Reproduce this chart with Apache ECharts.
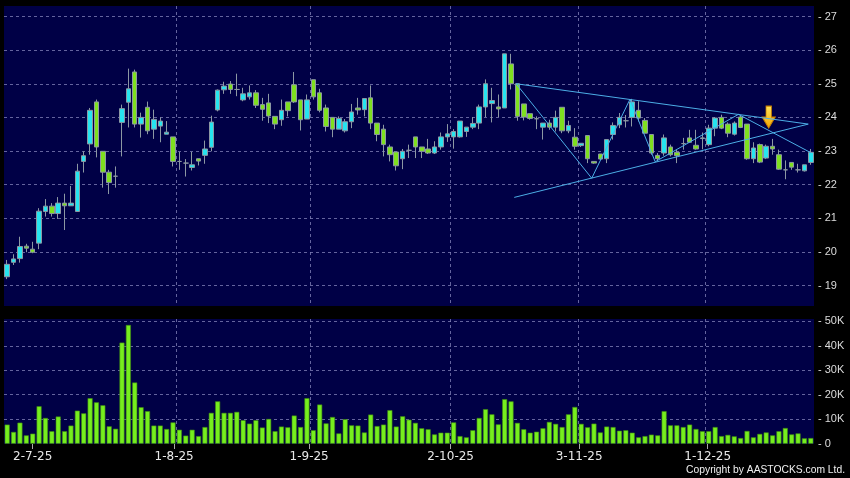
<!DOCTYPE html>
<html><head><meta charset="utf-8">
<script src="https://cdn.jsdelivr.net/npm/echarts@6/dist/echarts.min.js"></script>
<style>html,body{margin:0;padding:0;background:#000;} #c{width:850px;height:478px;}</style>
</head><body><div id="c"></div>
<script>
const dates = [
 '25-6-25','26-6-25','27-6-25','30-6-25',
 '2-7-25','3-7-25','4-7-25','7-7-25','8-7-25','9-7-25','10-7-25','11-7-25','14-7-25','15-7-25','16-7-25','17-7-25','18-7-25','21-7-25','22-7-25','23-7-25','24-7-25','25-7-25','28-7-25','29-7-25','30-7-25','31-7-25',
 '1-8-25','4-8-25','5-8-25','6-8-25','7-8-25','8-8-25','11-8-25','12-8-25','13-8-25','14-8-25','15-8-25','18-8-25','19-8-25','20-8-25','21-8-25','22-8-25','25-8-25','26-8-25','27-8-25','28-8-25','29-8-25',
 '1-9-25','2-9-25','3-9-25','4-9-25','5-9-25','8-9-25','9-9-25','10-9-25','11-9-25','12-9-25','15-9-25','16-9-25','17-9-25','18-9-25','19-9-25','22-9-25','23-9-25','24-9-25','25-9-25','26-9-25','29-9-25','30-9-25',
 '2-10-25','3-10-25','6-10-25','8-10-25','9-10-25','10-10-25','13-10-25','14-10-25','15-10-25','16-10-25','17-10-25','20-10-25','21-10-25','22-10-25','23-10-25','24-10-25','27-10-25','28-10-25','30-10-25','31-10-25',
 '3-11-25','4-11-25','5-11-25','6-11-25','7-11-25','10-11-25','11-11-25','12-11-25','13-11-25','14-11-25','17-11-25','18-11-25','19-11-25','20-11-25','21-11-25','24-11-25','25-11-25','26-11-25','27-11-25','28-11-25',
 '1-12-25','2-12-25','3-12-25','4-12-25','5-12-25','8-12-25','9-12-25','10-12-25','11-12-25','12-12-25','15-12-25','16-12-25','17-12-25','18-12-25','19-12-25','22-12-25','23-12-25','24-12-25'
];
const tickLabels = ['2-7-25','1-8-25','1-9-25','2-10-25','3-11-25','1-12-25'];

const opens = [19.26,19.69,19.80,20.17,20.08,20.26,21.20,21.36,21.14,21.45,21.37,21.20,22.69,23.21,24.46,22.99,22.37,22.25,23.85,24.45,25.35,23.80,24.30,23.65,23.74,23.50,23.42,22.69,22.64,22.51,22.77,22.87,23.11,24.22,24.82,24.99,24.83,24.52,24.61,24.73,24.38,24.43,24.03,23.93,24.46,24.97,24.52,23.95,25.12,24.73,24.28,24.00,23.65,23.60,23.87,24.28,24.23,24.58,23.83,23.65,23.12,22.97,22.77,23.02,23.42,23.12,23.06,22.94,23.12,23.42,23.42,23.42,23.58,23.71,23.83,24.31,24.41,24.31,24.28,25.59,25.00,24.40,24.11,23.96,23.71,23.83,23.71,24.30,23.60,23.41,23.16,23.46,22.69,22.91,22.77,23.49,23.78,23.90,24.00,24.21,23.91,23.49,22.87,22.94,23.12,22.96,23.22,23.39,23.17,23.37,23.19,23.68,24.00,23.80,23.50,24.01,23.80,22.77,23.19,22.79,23.14,22.89,22.44,22.66,22.44,22.41,22.66];
const closes = [19.63,19.79,20.16,20.11,19.99,21.21,21.36,21.14,21.45,21.37,21.45,22.40,22.86,24.21,23.12,22.37,22.06,22.25,24.26,24.85,23.80,24.00,23.60,23.94,23.89,23.56,22.69,22.69,22.64,22.59,22.70,23.06,23.86,24.81,24.93,24.83,24.83,24.70,24.73,24.36,24.24,24.04,23.80,24.21,24.20,24.46,23.93,24.52,24.61,24.21,23.73,23.65,23.97,23.87,24.16,24.22,24.56,23.83,23.49,23.19,22.89,22.56,22.99,23.02,23.12,22.99,22.94,23.12,23.42,23.51,23.58,23.89,23.71,23.82,24.31,25.00,24.50,24.25,25.89,25.00,24.03,24.01,23.97,23.96,23.83,23.71,24.00,23.60,23.76,23.14,23.23,22.77,22.64,22.76,23.34,23.76,24.00,23.90,24.46,23.98,23.53,22.94,22.77,23.39,22.89,22.86,23.22,23.26,23.06,23.39,23.68,23.98,23.68,23.53,23.83,23.70,22.77,23.09,22.67,23.14,23.06,22.46,22.44,22.52,22.44,22.59,22.96];
const lows = [19.19,19.61,19.68,19.99,19.96,20.08,21.05,21.05,20.98,20.65,21.37,21.20,22.36,22.89,22.81,21.91,21.72,21.91,22.84,23.70,23.70,23.40,23.50,23.36,23.26,23.50,22.54,22.44,22.24,22.42,22.57,22.62,22.99,24.18,24.70,24.70,24.63,24.48,24.53,24.28,23.90,23.83,23.65,23.75,24.03,24.43,23.61,23.95,24.53,24.15,23.58,23.41,23.65,23.55,23.68,24.08,24.03,23.65,23.29,22.84,22.69,22.42,22.46,22.79,22.79,22.79,22.91,22.91,23.04,23.27,23.07,23.40,23.42,23.65,23.65,24.01,23.85,24.01,24.28,24.83,23.90,23.91,23.93,23.65,23.34,23.63,23.58,23.53,23.53,23.04,23.12,22.64,22.62,22.73,22.64,23.34,23.68,23.70,23.73,23.88,23.53,22.89,22.69,22.86,22.84,22.64,23.04,23.26,23.04,23.05,23.14,23.44,23.65,23.41,23.46,23.68,22.74,22.64,22.64,22.76,22.89,22.44,22.16,22.44,22.36,22.39,22.59];
const highs = [19.76,19.93,20.45,20.24,20.30,21.30,21.57,21.45,21.63,21.73,21.96,22.62,22.99,24.28,24.53,22.99,22.44,22.54,24.38,25.45,25.42,24.14,24.47,24.23,24.00,23.89,23.42,22.97,22.76,22.97,22.77,23.31,24.05,24.83,25.06,25.08,25.30,24.88,24.95,24.81,24.58,24.70,24.03,24.53,24.46,25.35,24.52,24.68,25.12,24.85,24.38,24.00,24.03,23.95,24.40,24.58,24.56,24.95,23.83,23.78,23.19,22.97,23.06,23.19,23.42,23.12,23.36,23.29,23.55,23.80,23.65,23.89,23.71,24.01,24.38,25.13,24.88,24.68,25.89,25.89,25.00,24.40,24.11,24.03,23.83,23.93,24.20,24.30,23.90,23.68,23.23,23.46,22.69,22.91,23.34,23.85,24.13,24.07,24.55,24.48,23.98,23.49,22.94,23.49,23.19,23.04,23.39,23.63,23.63,23.55,23.78,24.01,24.08,23.85,23.88,24.05,23.80,23.26,23.22,23.19,23.36,23.04,22.72,22.66,22.62,22.59,23.06];
const volumes = [7800,4800,8600,3400,4100,15300,10500,5100,11100,5100,7400,13500,12400,18600,16900,15700,7100,6100,41300,48500,25000,14900,13300,7400,7400,6000,8700,5700,3300,5700,3100,6800,12600,17300,12600,12600,13000,9600,8200,9600,6600,10100,5100,7000,6700,11500,6800,18600,5500,16000,8300,10900,4200,10000,7500,7400,4600,11900,7200,7800,13700,7000,11200,9800,8500,6300,5900,3800,4500,4500,8700,3100,2600,5500,10500,14100,12000,7900,18200,17300,8500,5900,4500,4900,6300,8900,8100,6800,12000,15000,8100,6700,8200,4600,7000,6800,5300,5500,4500,2600,3100,3700,3400,13300,7500,7500,6800,7800,6000,5100,5100,6800,3100,3600,3000,2300,5200,2600,4000,4600,3400,5100,6400,3800,4200,2200,2300];
const priceTicks = [19,20,21,22,23,24,25,26,27];
const volumeTicks = [0,10000,20000,30000,40000,50000];

// trend lines: [candle index, price]
const upperTrend = [[79.8,25.0],[125.6,23.80]];
const lowerTrend = [[79.5,21.62],[125.6,23.80]];
const zigzag = [[79.8,25.0],[91.65,22.19],[97.65,24.54],[101.6,22.68],[114.65,24.09],[126,22.95]];
const arrowPoint = [[119.4,24.01]];

const n = dates.length;
const candles = dates.map((d,i)=>[opens[i],closes[i],lows[i],highs[i]]);
const gridIdx = tickLabels.map(l=>dates.indexOf(l)+1);

const NAVY = '#000046';
const GRIDC = 'rgba(125,125,180,0.8)';
const UP = '#26e4ef', DOWN = '#7fe01f', WICK = '#8c98a3';
const TL = '#4caee6';
const L = 4, W = 810;
const vSplit = {show:true, interval:(i)=>gridIdx.includes(i), showMaxLine:false, showMinLine:false, lineStyle:{color:GRIDC, type:[3,3], width:1}};
const hidCat = (g)=>({type:'category', gridIndex:g, data:dates, boundaryGap:true, axisLine:{show:false}, axisTick:{show:false}, axisLabel:{show:false}, splitLine:{show:false}});
const lbl = {color:'#dcdcdc', fontSize:11, fontFamily:'Liberation Sans', margin:4};

const chart = echarts.init(document.getElementById('c'), null, {renderer:'canvas'});
chart.setOption({
  backgroundColor:'#000',
  animation:false,
  title:{text:'Copyright by AASTOCKS.com Ltd.', right:5, top:465, padding:0,
    textStyle:{color:'#f0f0f0', fontSize:10.3, fontWeight:'normal', fontFamily:'Liberation Sans'}},
  grid:[
    {left:L, top:6, width:W, height:300, show:true, backgroundColor:NAVY, borderWidth:0},
    {left:L, top:16.5, width:W, height:269},
    {left:L, top:319, width:W, height:125, show:true, backgroundColor:NAVY, borderWidth:0},
    {left:L, top:321.3, width:W, height:122.4},
    {left:L, top:16.5, width:W, height:269},
    {left:7, top:319, width:810, height:125}
  ],
  xAxis:[
    Object.assign(hidCat(0), {splitLine:vSplit}),
    hidCat(1),
    Object.assign(hidCat(2), {splitLine:vSplit}),
    hidCat(3),
    {type:'value', gridIndex:4, min:-0.5, max:n-0.5, show:false},
    {type:'category', gridIndex:5, data:dates, boundaryGap:false,
      axisLine:{show:false},
      axisTick:{show:true, interval:(i,v)=>tickLabels.includes(v), length:5, lineStyle:{color:'#aaa'}},
      axisLabel:{interval:(i,v)=>tickLabels.includes(v), color:'#e8e8e8', fontSize:12, fontFamily:'DejaVu Sans', margin:7},
      splitLine:{show:false}}
  ],
  yAxis:[
    {type:'value', gridIndex:0, show:false},
    {type:'value', gridIndex:1, min:priceTicks[0], max:priceTicks[priceTicks.length-1], interval:1, position:'right',
      axisLine:{show:false}, axisTick:{show:false},
      axisLabel:Object.assign({formatter:v=>'- '+v}, lbl),
      splitLine:{show:true, lineStyle:{color:GRIDC, type:[3,3], width:1}}},
    {type:'value', gridIndex:2, show:false},
    {type:'value', gridIndex:3, min:volumeTicks[0], max:volumeTicks[volumeTicks.length-1], interval:10000, position:'right',
      axisLine:{show:false}, axisTick:{show:false},
      axisLabel:Object.assign({formatter:v=>'- '+(v? (v/1000)+'K' : '0')}, lbl),
      splitLine:{show:true, showMinLine:false, lineStyle:{color:GRIDC, type:[3,3], width:1}}},
    {type:'value', gridIndex:4, min:priceTicks[0], max:priceTicks[priceTicks.length-1], show:false},
    {type:'value', gridIndex:5, show:false}
  ],
  series:[
    {type:'candlestick', xAxisIndex:1, yAxisIndex:1, data:candles, barWidth:5,
      itemStyle:{color:UP, color0:DOWN, borderColor:WICK, borderColor0:WICK, borderColorDoji:WICK, borderWidth:1}},
    {type:'bar', xAxisIndex:3, yAxisIndex:3, data:volumes, barWidth:5,
      itemStyle:{color:'#76ee1e', borderColor:'#3f8c12', borderWidth:0.6}},
    {type:'line', xAxisIndex:4, yAxisIndex:4, data:upperTrend, symbol:'none', silent:true, lineStyle:{color:TL, width:1}},
    {type:'line', xAxisIndex:4, yAxisIndex:4, data:lowerTrend, symbol:'none', silent:true, lineStyle:{color:TL, width:1}},
    {type:'line', xAxisIndex:4, yAxisIndex:4, data:zigzag, symbol:'none', silent:true, lineStyle:{color:TL, width:1}},
    {type:'scatter', xAxisIndex:4, yAxisIndex:4, data:arrowPoint, silent:true,
      symbol:'path://M3.5,0 L8.5,0 L8.5,11 L12,11 L6,22 L0,11 L3.5,11 Z', symbolSize:[13,22],
      itemStyle:{color:new echarts.graphic.LinearGradient(0,0,0,1,[{offset:0,color:'#ffe45a'},{offset:1,color:'#f2a400'}]), borderColor:'#c98000', borderWidth:1, opacity:1}}
  ]
});
</script>
</body></html>
